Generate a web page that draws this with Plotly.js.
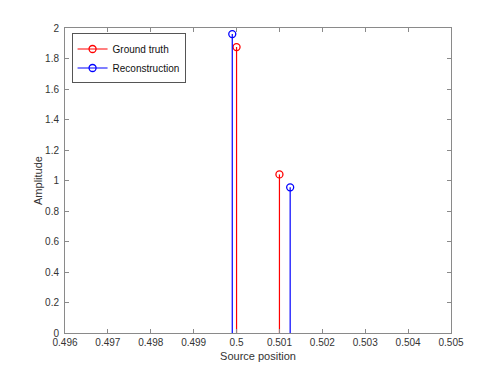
<!DOCTYPE html>
<html>
<head>
<meta charset="utf-8">
<script src="https://cdn.plot.ly/plotly-3.0.1.min.js"></script>
<style>
  body { margin: 0; background: #fff; }
  #stem-plot { width: 498px; height: 374px; }
</style>
</head>
<body>
<div id="stem-plot"></div>
<script>
// values
var truthPos = [0.5, 0.501];
var truthAmp = [1.875, 1.04];
var reconPos = [0.4999, 0.50125];
var reconAmp = [1.96, 0.955];

var xTicks = [0.496, 0.497, 0.498, 0.499, 0.5, 0.501, 0.502, 0.503, 0.504, 0.505];
var yTicks = [0, 0.2, 0.4, 0.6, 0.8, 1, 1.2, 1.4, 1.6, 1.8, 2];

// each stem: tip, base, gap -> one trace with line + circle at the tip
function stemTrace(pos, amp, name, color) {
  var xs = [], ys = [], cols = [];
  for (var i = 0; i < pos.length; i++) {
    xs.push(pos[i], pos[i], null);
    ys.push(amp[i], 0, null);
    cols.push(color, "rgba(0,0,0,0)", color);
  }
  return {
    x: xs,
    y: ys,
    name: name,
    type: "scatter",
    mode: "lines+markers",
    connectgaps: false,
    line: { color: color, width: 1.2 },
    marker: { symbol: "circle-open", size: 7, color: cols, line: { width: 1.3 } },
    cliponaxis: false
  };
}

var data = [
  stemTrace(truthPos, truthAmp, "Ground truth", "#ff0000"),
  stemTrace(reconPos, reconAmp, "Reconstruction", "#0000ff")
];

var axisStyle = {
  showline: true,
  linecolor: "#8a8a8a",
  linewidth: 1,
  mirror: "ticks",
  ticks: "inside",
  ticklen: 4,
  tickcolor: "#8a8a8a",
  showgrid: false,
  zeroline: false,
  tickfont: { family: "Liberation Sans, Arial, sans-serif", size: 10, color: "#333" }
};

var layout = {
  width: 498,
  height: 374,
  margin: { l: 65, r: 47, t: 28, b: 41 },
  paper_bgcolor: "#fff",
  plot_bgcolor: "#fff",
  font: { family: "Liberation Sans, Arial, sans-serif", size: 10, color: "#333" },
  showlegend: true,
  legend: {
    x: 0.017, y: 0.982, xanchor: "left", yanchor: "top",
    bgcolor: "#fff", bordercolor: "#555", borderwidth: 1,
    font: { size: 10, color: "#111" },
    tracegroupgap: 0
  },
  xaxis: Object.assign({}, axisStyle, {
    range: [0.496, 0.505],
    tickvals: xTicks,
    ticktext: xTicks.map(String),
    title: { text: "Source position", font: { size: 11, color: "#333" }, standoff: 5 }
  }),
  yaxis: Object.assign({}, axisStyle, {
    range: [0, 2],
    tickvals: yTicks,
    ticktext: yTicks.map(String),
    ticklabelstandoff: 3,
    title: { text: "Amplitude", font: { size: 11, color: "#333" }, standoff: 0 }
  })
};

Plotly.newPlot("stem-plot", data, layout, { displayModeBar: false, staticPlot: true });
</script>
</body>
</html>
